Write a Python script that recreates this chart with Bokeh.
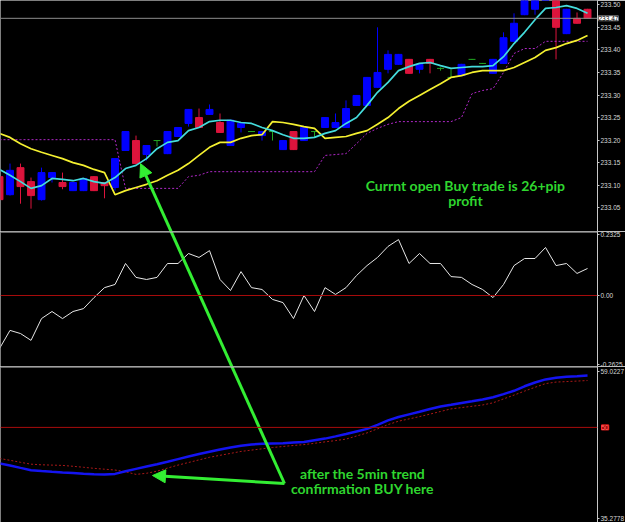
from bokeh.plotting import figure
from bokeh.layouts import column
from bokeh.models import Range1d, LinearAxis, FixedTicker, Span, Label, Arrow, NormalHead
from bokeh.embed import file_html
from bokeh.resources import INLINE

# ---------------- data ----------------
BARS = list(range(57))

OPEN = [233.119, 233.079, 233.139, 233.108, 233.068, 233.117, 233.106, 233.088, 233.088, 233.119,
        233.106, 233.095, 233.177, 233.199, 233.168, 233.199, 233.170, 233.208, 233.237, 233.250,
        233.257, 233.239, 233.188, 233.228, 233.219, 233.210, 233.219, 233.179, 233.219, 233.199,
        233.219, 233.228, 233.228, 233.228, 233.277, 233.277, 233.317, 233.357, 233.368, 233.379,
        233.357, 233.379, 233.359, 233.339, 233.343, 233.379, 233.370, 233.348, 233.370, 233.419,
        233.478, 233.490, 233.516, 233.521, 233.436, 233.470, 233.490]
HIGH = [233.122, 233.148, 233.148, 233.117, 233.139, 233.129, 233.128, 233.107, 233.116, 233.120,
        233.107, 233.160, 233.220, 233.210, 233.189, 233.200, 233.220, 233.229, 233.269, 233.270,
        233.279, 233.259, 233.245, 233.238, 233.220, 233.220, 233.220, 233.200, 233.220, 233.229,
        233.220, 233.251, 233.259, 233.288, 233.300, 233.340, 233.450, 233.399, 233.391, 233.380,
        233.369, 233.380, 233.361, 233.357, 233.369, 233.380, 233.371, 233.380, 233.439, 233.481,
        233.525, 233.535, 233.549, 233.527, 233.491, 233.483, 233.491]
LOW = [233.066, 233.077, 233.059, 233.048, 233.066, 233.106, 233.091, 233.087, 233.087, 233.087,
       233.071, 233.088, 233.176, 233.147, 233.155, 233.186, 233.169, 233.207, 233.230, 233.227,
       233.256, 233.216, 233.187, 233.217, 233.218, 233.199, 233.199, 233.178, 233.178, 233.198,
       233.206, 233.227, 233.227, 233.227, 233.276, 233.276, 233.316, 233.348, 233.367, 233.347,
       233.348, 233.348, 233.354, 233.338, 233.342, 233.378, 233.369, 233.347, 233.369, 233.418,
       233.477, 233.478, 233.514, 233.379, 233.435, 233.458, 233.469]
CLOSE = [233.068, 233.133, 233.097, 233.077, 233.128, 233.128, 233.097, 233.106, 233.115, 233.088,
         233.099, 233.159, 233.219, 233.148, 233.188, 233.199, 233.219, 233.228, 233.268, 233.228,
         233.268, 233.217, 233.244, 233.237, 233.219, 233.219, 233.219, 233.199, 233.179, 233.228,
         233.219, 233.250, 233.239, 233.270, 233.299, 233.339, 233.350, 233.390, 233.390, 233.348,
         233.368, 233.370, 233.359, 233.339, 233.368, 233.379, 233.370, 233.379, 233.427, 233.459,
         233.521, 233.532, 233.543, 233.450, 233.490, 233.459, 233.470]

FAST_MA = [233.135, 233.122, 233.108, 233.093, 233.099, 233.115, 233.113, 233.110, 233.115, 233.108,
           233.104, 233.117, 233.137, 233.144, 233.159, 233.181, 233.195, 233.199, 233.221, 233.228,
           233.241, 233.244, 233.244, 233.239, 233.237, 233.228, 233.221, 233.212, 233.204, 233.204,
           233.206, 233.215, 233.221, 233.237, 233.250, 233.277, 233.306, 233.328, 233.354, 233.363,
           233.370, 233.372, 233.365, 233.359, 233.361, 233.363, 233.363, 233.365, 233.385, 233.414,
           233.439, 233.467, 233.492, 233.494, 233.498, 233.492, 233.481]
SLOW_MA = [233.215, 233.206, 233.192, 233.181, 233.173, 233.166, 233.159, 233.150, 233.144, 233.135,
           233.128, 233.079, 233.088, 233.095, 233.102, 233.110, 233.122, 233.133, 233.148, 233.166,
           233.184, 233.195, 233.195, 233.204, 233.210, 233.212, 233.241, 233.239, 233.235, 233.230,
           233.226, 233.204, 233.206, 233.208, 233.215, 233.221, 233.235, 233.250, 233.270, 233.286,
           233.299, 233.312, 233.325, 233.339, 233.343, 233.350, 233.354, 233.354, 233.354, 233.361,
           233.372, 233.383, 233.399, 233.405, 233.414, 233.421, 233.432]
TRAIL_STOP = [233.201, 233.201, 233.201, 233.201, 233.201, 233.201, 233.201, 233.201, 233.201, 233.201,
              233.201, 233.201, 233.093, 233.093, 233.093, 233.093, 233.093, 233.093, 233.119, 233.122,
              233.130, 233.130, 233.130, 233.130, 233.130, 233.130, 233.130, 233.130, 233.130, 233.130,
              233.130, 233.166, 233.168, 233.170, 233.192, 233.215, 233.226, 233.235, 233.241, 233.241,
              233.241, 233.241, 233.241, 233.241, 233.250, 233.303, 233.310, 233.314, 233.350, 233.392,
              233.403, 233.403, 233.419, 233.419, 233.419, 233.419, 233.419]

OSC = [-0.202, -0.133, -0.145, -0.171, -0.088, -0.061, -0.088, -0.061, -0.050, -0.008,
       0.030, 0.042, 0.122, 0.069, 0.061, 0.069, 0.122, 0.122, 0.160, 0.145,
       0.171, 0.061, 0.019, 0.091, 0.030, 0.023, -0.015, -0.027, -0.088, 0.000,
       -0.061, 0.030, 0.004, 0.030, 0.076, 0.114, 0.145, 0.187, 0.213, 0.122,
       0.160, 0.122, 0.122, 0.072, 0.069, 0.042, 0.023, -0.008, 0.042, 0.114,
       0.141, 0.141, 0.183, 0.114, 0.122, 0.084, 0.103]

RSI_MAIN = [44.17, 43.85, 43.46, 43.09, 42.94, 42.83, 42.73, 42.64, 42.52, 42.43,
            42.39, 42.49, 42.91, 43.30, 43.67, 44.04, 44.44, 44.88, 45.30, 45.69,
            46.06, 46.43, 46.75, 47.03, 47.25, 47.34, 47.40, 47.45, 47.55, 47.63,
            47.92, 48.19, 48.55, 48.92, 49.34, 49.76, 50.42, 51.13, 51.68, 52.10,
            52.52, 52.96, 53.38, 53.65, 53.94, 54.22, 54.51, 54.88, 55.38, 55.91,
            56.64, 57.25, 57.75, 58.01, 58.19, 58.28, 58.38]
RSI_SIGNAL = [44.98, 44.69, 44.36, 44.06, 43.96, 43.91, 43.86, 43.72, 43.56, 43.39,
              43.25, 43.12, 42.83, 42.41, 42.59, 42.93, 43.43, 43.91, 44.33, 44.75,
              45.17, 45.49, 45.80, 46.12, 46.33, 46.54, 46.75, 46.92, 47.08, 47.22,
              47.43, 47.66, 47.87, 48.11, 48.61, 49.11, 49.77, 50.45, 51.00, 51.37,
              51.74, 52.15, 52.57, 52.99, 53.20, 53.41, 53.62, 53.97, 54.60, 55.22,
              55.86, 56.48, 57.07, 57.32, 57.40, 57.48, 57.57]

CURRENT_PRICE = 233.47
OSC_LEVEL = 0.0
RSI_LEVEL = 50

TICKS_MAIN = [233.05, 233.10, 233.15, 233.20, 233.25, 233.30, 233.35, 233.40, 233.45, 233.50]
TICK_LABELS_MAIN = ["233.05", "233.10", "233.15", "233.20", "233.25", "233.30", "233.35", "233.40", "233.45", "233.50"]
TICKS_OSC = [0.2325, 0.0, -0.2625]
TICK_LABELS_OSC = ["0.2325", "0.00", "-0.2625"]
TICKS_RSI = [59.0227, 35.2778]
TICK_LABELS_RSI = ["59.0227", "35.2778"]

NOTE_1 = ["Currnt open Buy trade is 26+pip", "profit"]
NOTE_1_POS = [(44.38, 233.099), (44.38, 233.066)]
NOTE_2 = ["after the 5min trend", "confirmation BUY here"]
NOTE_2_POS = [(34.57, 42.55), (34.57, 40.13)]

# arrow points: (panel, bar position, value in that panel)
ARROW_TAIL = ("rsi", 27.14, 40.94)
ARROW_TIP_1 = ("main", 13.43, 233.148)
ARROW_TIP_2 = ("rsi", 14.57, 42.23)

# ---------------- layout ----------------
FRAME_W = 597
X_LO, X_HI = 0.095, 56.95
PANELS = {
    "main": dict(top=0, height=231, lo=232.9974, hi=233.5095),
    "osc": dict(top=231, height=135, lo=-0.2706, hi=0.2439),
    "rsi": dict(top=366, height=156, lo=34.641, hi=59.835),
}

BLUE = "#0000ff"
RED = "#dc143c"
DOJI = "#22a822"
GREEN_TXT = "#2fd62f"
GREEN_ARROW = "#33ee33"
AXIS_C = "#c8c8c8"
LEVEL_C = "#a80c0c"
NOTE_FONT = "Lato"
NOTE_SIZE = "14px"


def page_y(panel, v):
    P = PANELS[panel]
    return P["top"] + (P["hi"] - v) / (P["hi"] - P["lo"]) * P["height"]


def panel_value(panel, y):
    P = PANELS[panel]
    return P["hi"] - (y - P["top"]) / P["height"] * (P["hi"] - P["lo"])


def to_panel(pt, panel):
    src, x, v = pt
    return x, panel_value(panel, page_y(src, v))


def style_axis(ax, color="#d8d8d8"):
    ax.axis_line_color = AXIS_C
    ax.axis_line_width = 1
    ax.major_tick_line_color = AXIS_C
    ax.major_tick_out = 2
    ax.major_tick_in = 0
    ax.minor_tick_out = 0
    ax.minor_tick_in = 0
    ax.major_label_standoff = 1
    ax.major_label_text_color = color
    ax.major_label_text_font = "Liberation Sans"
    ax.major_label_text_font_size = "6.5px"


def make_fig(name, ticks, labels):
    P = PANELS[name]
    p = figure(frame_width=FRAME_W, frame_height=P["height"],
               x_range=Range1d(X_LO, X_HI), y_range=Range1d(P["lo"], P["hi"]),
               output_backend="svg", toolbar_location=None,
               background_fill_color="black", border_fill_color="black",
               min_border_left=0, min_border_right=28, min_border_top=0, min_border_bottom=0,
               x_axis_location=None, y_axis_location=None)
    p.outline_line_color = None
    p.xgrid.visible = False
    p.ygrid.visible = False
    ax = LinearAxis(ticker=FixedTicker(ticks=ticks),
                    major_label_overrides={t: l for t, l in zip(ticks, labels)})
    style_axis(ax)
    p.add_layout(ax, "right")
    return p


def arrow_line(p, panel, tail, tip, head):
    x0, y0 = to_panel(tail, panel)
    x1, y1 = to_panel(tip, panel)
    if head:
        p.add_layout(Arrow(end=NormalHead(size=13, fill_color=GREEN_ARROW, line_color=GREEN_ARROW),
                           x_start=x0, y_start=y0, x_end=x1, y_end=y1,
                           line_color=GREEN_ARROW, line_width=3))
    else:
        p.segment(x0=[x0], y0=[y0], x1=[x1], y1=[y1], line_color=GREEN_ARROW, line_width=3)


def boxed_value_label(p, value, text, fill, border, color, shift):
    # label in the price-scale side panel; x is measured in pixels from that panel's origin
    lab = Label(x=shift, y=value, x_units="screen", text=text,
                text_align="left", text_baseline="middle", text_font="Liberation Sans",
                text_font_size="6.5px", text_color=color,
                background_fill_color=fill, border_line_color=border)
    p.add_layout(lab, "right")


# ---------------- main price panel ----------------
pm = make_fig("main", TICKS_MAIN, TICK_LABELS_MAIN)

colors = [BLUE if c > o else (RED if c < o else DOJI) for o, c in zip(OPEN, CLOSE)]
pm.segment(x0=BARS, y0=LOW, x1=BARS, y1=HIGH, line_color=colors, line_width=1)
body_x = [b for b, o, c in zip(BARS, OPEN, CLOSE) if o != c]
body_top = [max(o, c) for o, c in zip(OPEN, CLOSE) if o != c]
body_bot = [min(o, c) for o, c in zip(OPEN, CLOSE) if o != c]
body_col = [colors[b] for b in body_x]
pm.vbar(x=body_x, width=0.66, top=body_top, bottom=body_bot, fill_color=body_col, line_color=body_col)
doji_x = [b for b, o, c in zip(BARS, OPEN, CLOSE) if o == c]
doji_y = [OPEN[b] for b in doji_x]
pm.segment(x0=[b - 0.33 for b in doji_x], y0=doji_y, x1=[b + 0.33 for b in doji_x], y1=doji_y,
           line_color=DOJI, line_width=1)

pm.line(BARS, TRAIL_STOP, line_color="#b028c8", line_width=1, line_dash="2 2")
pm.line(BARS, SLOW_MA, line_color="#f4f030", line_width=1.7)
pm.line(BARS, FAST_MA, line_color="#44dcdc", line_width=1.7)

pm.add_layout(Span(location=CURRENT_PRICE, dimension="width", line_color="#8c8c8c", line_width=1))
boxed_value_label(pm, CURRENT_PRICE, "%.2f" % CURRENT_PRICE, "white", "#707070", "black", -25)

for t, (x, y) in zip(NOTE_1, NOTE_1_POS):
    pm.add_layout(Label(x=x, y=y, text=t, text_align="center", text_baseline="middle",
                        text_font=NOTE_FONT, text_font_style="bold",
                        text_font_size=NOTE_SIZE, text_color=GREEN_TXT))

arrow_line(pm, "main", ARROW_TAIL, ARROW_TIP_1, True)

# ---------------- oscillator panel ----------------
po = make_fig("osc", TICKS_OSC, TICK_LABELS_OSC)
po.add_layout(Span(location=OSC_LEVEL, dimension="width", line_color=LEVEL_C, line_width=1))
po.line(BARS, OSC, line_color="#e6e6e6", line_width=1)
po.add_layout(Span(location=PANELS["osc"]["hi"], dimension="width", line_color="#c4c4c4", line_width=2))
arrow_line(po, "osc", ARROW_TAIL, ARROW_TIP_1, False)

# ---------------- RSI panel ----------------
pr = make_fig("rsi", TICKS_RSI, TICK_LABELS_RSI)
pr.add_layout(Span(location=RSI_LEVEL, dimension="width", line_color=LEVEL_C, line_width=1))
pr.line(BARS, RSI_SIGNAL, line_color="#a81818", line_width=1, line_dash="2 2")
pr.line(BARS, RSI_MAIN, line_color="#1414f0", line_width=2.5)
pr.add_layout(Span(location=PANELS["rsi"]["hi"], dimension="width", line_color="#c4c4c4", line_width=2))
boxed_value_label(pr, RSI_LEVEL, str(RSI_LEVEL), "#a00000", "#ff2020", "#ff7070", -25)
for t, (x, y) in zip(NOTE_2, NOTE_2_POS):
    pr.add_layout(Label(x=x, y=y, text=t, text_align="center", text_baseline="middle",
                        text_font=NOTE_FONT, text_font_style="bold",
                        text_font_size=NOTE_SIZE, text_color=GREEN_TXT))
arrow_line(pr, "rsi", ARROW_TAIL, ARROW_TIP_1, False)
arrow_line(pr, "rsi", ARROW_TAIL, ARROW_TIP_2, True)

layout = column(pm, po, pr, spacing=0)
open("out.html", "w").write(file_html(layout, INLINE))
